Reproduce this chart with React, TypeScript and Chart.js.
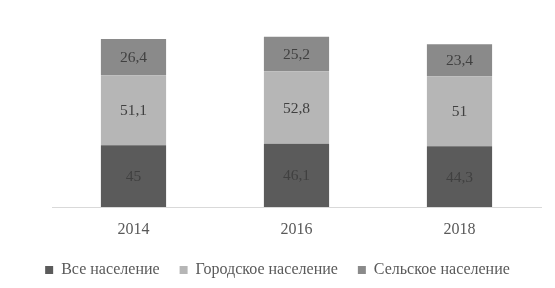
import React, { useEffect, useRef } from "react";
import { Chart, registerables } from "chart.js";

Chart.register(...registerables);

const categories = ["2014", "2016", "2018"];
const seriesNames = ["Все население", "Городское население", "Сельское население"];
const allPop = [45, 46.1, 44.3];
const urbanPop = [51.1, 52.8, 51];
const ruralPop = [26.4, 25.2, 23.4];
const colors = ["#5b5b5b", "#b6b6b6", "#8a8a8a"];

const FONT = "'Liberation Serif', 'Times New Roman', serif";

const labelPlugin = {
  id: "barLabels",
  afterDatasetsDraw(chart: any) {
    const ctx = chart.ctx;
    ctx.save();
    ctx.font = `15.5px ${FONT}`;
    ctx.fillStyle = "#404040";
    ctx.textAlign = "center";
    ctx.textBaseline = "middle";
    chart.data.datasets.forEach((ds: any, di: number) => {
      const meta = chart.getDatasetMeta(di);
      meta.data.forEach((bar: any, i: number) => {
        const v = ds.data[i];
        const txt = String(v).replace(".", ",");
        const y = (bar.y + bar.base) / 2;
        ctx.fillText(txt, bar.x, y + 1);
      });
    });
    ctx.restore();
  },
};

export default function App() {
  const ref = useRef<HTMLCanvasElement>(null);
  useEffect(() => {
    if (!ref.current) return;
    const chart = new Chart(ref.current, {
      type: "bar",
      data: {
        labels: categories,
        datasets: [
          { label: seriesNames[0], data: allPop, backgroundColor: colors[0] },
          { label: seriesNames[1], data: urbanPop, backgroundColor: colors[1] },
          { label: seriesNames[2], data: ruralPop, backgroundColor: colors[2] },
        ],
      },
      options: {
        animation: false,
        responsive: false,
        layout: { padding: { left: 14, right: 14, top: 15, bottom: 0 } },
        datasets: { bar: { barPercentage: 0.4, categoryPercentage: 1 } } as any,
        scales: {
          x: {
            stacked: true,
            grid: { display: false, drawTicks: false },
            border: { display: true, color: "#d9d9d9", width: 1 },
            ticks: { color: "#595959", font: { family: FONT, size: 16 }, padding: 13 },
            afterFit(axis: any) {
              axis.height = 35;
            },
          },
          y: {
            stacked: true,
            display: true,
            min: 0,
            max: 140,
            grid: { display: false, drawTicks: false },
            border: { display: false },
            ticks: { display: false },
            afterFit(axis: any) {
              axis.width = 38;
            },
          },
        },
        plugins: {
          legend: {
            position: "bottom",
            maxHeight: 49,
            labels: {
              boxWidth: 8,
              boxHeight: 8,
              color: "#595959",
              font: { family: FONT, size: 16 },
              padding: 20,
            },
          },
          tooltip: { enabled: false },
        },
      },
      plugins: [labelPlugin],
    });
    return () => chart.destroy();
  }, []);
  return (
    <div style={{ position: "fixed", left: 0, top: 0, width: 555, height: 288, background: "#fff" }}>
      <canvas ref={ref} width={555} height={288} style={{ width: 555, height: 288 }} />
    </div>
  );
}
